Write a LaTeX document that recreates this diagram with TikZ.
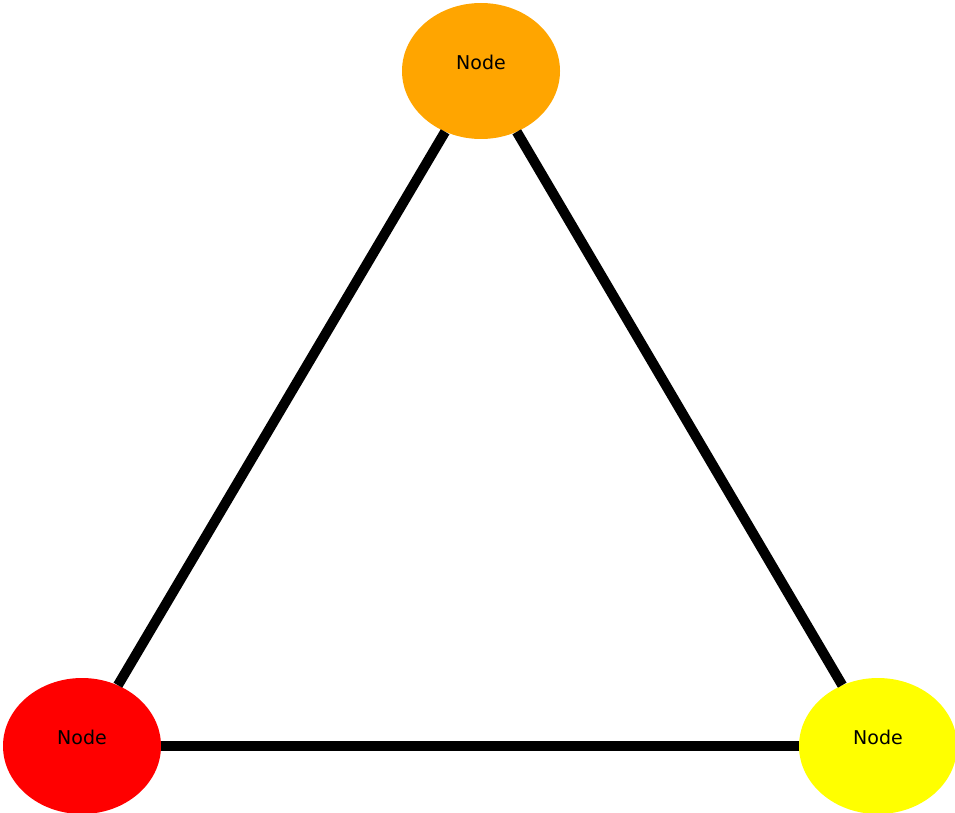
\documentclass[tikz,border=0pt]{standalone}
\usepackage{fontspec}
\setmainfont{DejaVu Sans}
\usetikzlibrary{shapes.geometric}
\begin{document}
\begin{tikzpicture}[x=1pt,y=-1pt,
  blob/.style={ellipse, draw=none, inner sep=0pt,
    minimum width=158pt, minimum height=136pt,
    label={[font=\fontsize{19}{19}\selectfont, yshift=9pt]center:Node}},
  link/.style={line width=10pt, draw=black}]
  \useasboundingbox (0,0) rectangle (955,813);
  \node[blob, fill={rgb,255:red,255;green,165;blue,0}] (top) at (481,71) {};
  \node[blob, fill={rgb,255:red,255;green,0;blue,0}] (left) at (82,746) {};
  \node[blob, fill={rgb,255:red,255;green,255;blue,0}] (right) at (878,746) {};
  \draw[link] (top) -- (left);
  \draw[link] (top) -- (right);
  \draw[link] (left) -- (right);
\end{tikzpicture}
\end{document}
